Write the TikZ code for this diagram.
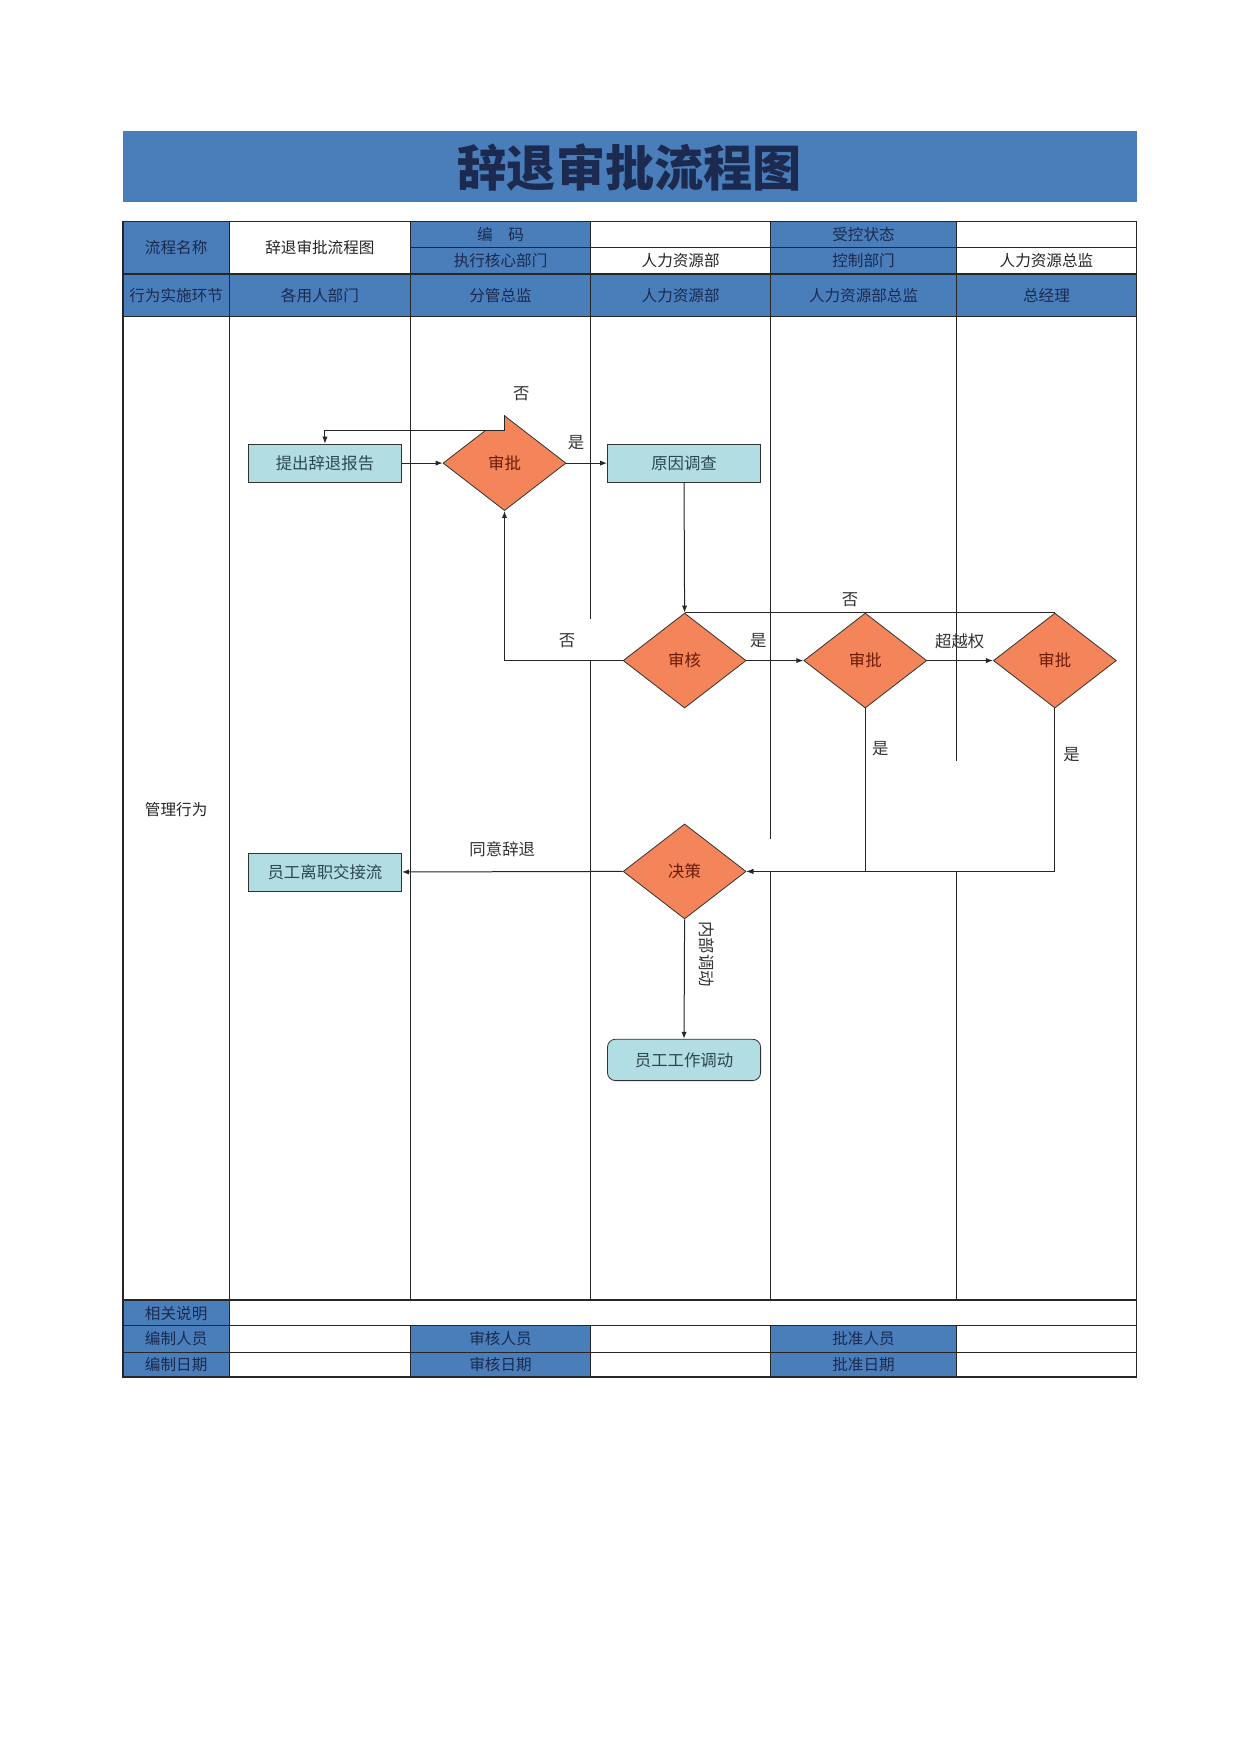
\documentclass[tikz,border=0pt]{standalone}
\usepackage{fontspec}
\setmainfont{Noto Sans CJK SC}
\usepackage{xcolor}
\usepackage{tikz}
\usetikzlibrary{shapes.geometric,arrows.meta}

\definecolor{hdblue}{HTML}{4A7EBB}
\definecolor{hdtext}{HTML}{1B2A4E}
\definecolor{boxfill}{HTML}{B2DDE3}
\definecolor{boxtext}{HTML}{2C4653}
\definecolor{decfill}{HTML}{F4845A}
\definecolor{dectext}{HTML}{6B1A08}

\begin{document}
\begin{tikzpicture}[x=0.5595pt, y=-0.5595pt,
  grid/.style={draw=black!85, line width=0.7pt},
  hdlabel/.style={text=hdtext, font=\fontsize{7.8}{9}\selectfont},
  cell/.style={text=black!85, font=\fontsize{7.8}{9}\selectfont},
  task/.style={draw=black!80, fill=boxfill, text=boxtext, minimum width=76.6pt, minimum height=19pt, inner sep=0pt, font=\fontsize{8.2}{10}\selectfont},
  decision/.style={diamond, draw=black!80, fill=decfill, text=dectext, minimum width=61.5pt, minimum height=47.5pt, inner sep=0pt, font=\fontsize{8.2}{10}\selectfont},
  flow/.style={-{Latex[length=3.5pt,width=2.6pt]}, draw=black!85, line width=0.5pt},
  tag/.style={text=black!80, font=\fontsize{8.2}{10}\selectfont}]

\fill[white] (0,0) rectangle (1110,1568);
\useasboundingbox (0,0) rectangle (1110,1568);

% title bar
\fill[hdblue] (110,117) rectangle (1016,181);
\node[text=hdtext, font=\fontsize{24.6}{28}\selectfont\bfseries] (title) at (563,150) {辞退审批流程图};

% header cells
\fill[hdblue] (110,198) rectangle (205,245);
\fill[hdblue] (367,198) rectangle (528,245);
\fill[hdblue] (689,198) rectangle (855,245);
\fill[hdblue] (110,245) rectangle (1016,283);
\node[hdlabel] (hname) at (157.5,221.5) {流程名称};
\node[cell] (vname) at (286,221.5) {辞退审批流程图};
\node[hdlabel] (hcode) at (447.5,210) {编　码};
\node[hdlabel] (hexec) at (447.5,233) {执行核心部门};
\node[cell] (vexec) at (608.5,233) {人力资源部};
\node[hdlabel] (hstate) at (772,210) {受控状态};
\node[hdlabel] (hctrl) at (772,233) {控制部门};
\node[cell] (vctrl) at (935.5,233) {人力资源总监};
\node[hdlabel] (lane0) at (157.5,264) {行为实施环节};
\node[hdlabel] (lane1) at (286,264) {各用人部门};
\node[hdlabel] (lane2) at (447.5,264) {分管总监};
\node[hdlabel] (lane3) at (608.5,264) {人力资源部};
\node[hdlabel] (lane4) at (772,264) {人力资源部总监};
\node[hdlabel] (lane5) at (935.5,264) {总经理};
\node[cell] (act) at (157.5,724) {管理行为};

% footer cells
\fill[hdblue] (110,1162) rectangle (205,1231);
\fill[hdblue] (367,1185) rectangle (528,1231);
\fill[hdblue] (689,1185) rectangle (855,1231);
\node[hdlabel] (fnote) at (157.5,1174) {相关说明};
\node[hdlabel] (fmake) at (157.5,1197) {编制人员};
\node[hdlabel] (fcheck) at (447.5,1197) {审核人员};
\node[hdlabel] (fok) at (772,1197) {批准人员};
\node[hdlabel] (fmaked) at (157.5,1220) {编制日期};
\node[hdlabel] (fcheckd) at (447.5,1220) {审核日期};
\node[hdlabel] (fokd) at (772,1220) {批准日期};

% table lines
\foreach \y in {198,245,283,1162,1185,1209,1231}
  \draw[grid] (110,\y) -- (1016,\y);
\draw[grid] (367,221) -- (1016,221);
\draw[grid] (110,198) rectangle (1016,1231);
\foreach \x in {205,367,528,689,855}
  \draw[grid] (\x,198) -- (\x,283);
\draw[grid] (205,1162) -- (205,1231);
\foreach \x in {367,528,689,855}
  \draw[grid] (\x,1185) -- (\x,1231);
% lanes
\foreach \x/\a/\b in {205/283/1162, 367/283/1162, 528/283/553, 528/590/1162,
                      689/283/750, 689/779/1162, 855/283/680, 855/779/1162}
  \draw[grid] (\x,\a) -- (\x,\b);

% flow shapes
\node[task] (report) at (290.5,414) {提出辞退报告};
\node[decision] (approve1) at (451,414) {审批};
\node[task] (survey) at (611.5,414) {原因调查};
\node[decision] (review) at (612,590.5) {审核};
\node[decision] (approve2) at (773.5,590.5) {审批};
\node[decision] (approve3) at (943,590.5) {审批};
\node[decision] (decide) at (612,779) {决策};
\node[task] (handover) at (290.5,779.5) {员工离职交接流};
\node[task, rounded corners=4pt, minimum height=20.7pt] (transfer) at (611.5,947.5) {员工工作调动};

% connectors
\fill[white] ([shift={(0,-1)}]approve1.north) -- ([shift={(-19,13.5)}]approve1.north) -- ([shift={(0,13.5)}]approve1.north) -- cycle;
\draw[flow] (approve1.north) -- ++(0,13.5) -| (report.north);
\draw[flow] (report.east) -- (approve1.west);
\draw[flow] (approve1.east) -- (survey.west);
\draw[flow] (survey.south) -- (review.north);
\draw[flow] (review.west) -| (approve1.south);
\draw[flow] (review.east) -- (approve2.west);
\draw[flow] (approve2.east) -- (approve3.west);
\draw[draw=black!85, line width=0.5pt] (approve3.north) -- (review.north);
\draw[flow] (approve2.south) |- (decide.east);
\draw[flow] (approve3.south) |- (decide.east);
\draw[flow] (decide.west) -- (handover.east);
\draw[flow] (decide.south) -- (transfer.north);

% connector labels
\node[tag] (no1) at (466,352) {否};
\node[tag] (yes1) at (515,396) {是};
\node[tag] (no2) at (507,573) {否};
\node[tag] (yes2) at (678,573) {是};
\node[tag] (over) at (858,573) {超越权};
\node[tag] (no3) at (760,536) {否};
\node[tag] (yes3) at (787,669) {是};
\node[tag] (yes4) at (958,675) {是};
\node[tag] (agree) at (449,759) {同意辞退};
\node[tag, rotate=-90] (inner) at (632,853) {内部调动};
\end{tikzpicture}
\end{document}
